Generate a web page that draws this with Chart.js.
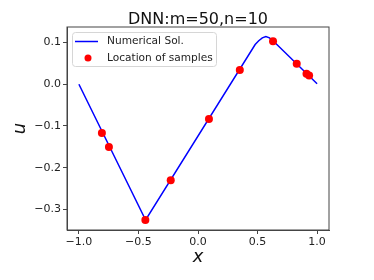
<!DOCTYPE html>
<html>
<head>
<meta charset="utf-8">
<script src="https://cdn.jsdelivr.net/npm/chart.js@4"></script>
<style>
  body { margin: 0; background: #fff; }
  #wrap { width: 374px; height: 280px; position: relative; }
</style>
</head>
<body>
<div id="wrap"><canvas id="chart"></canvas></div>
<script>
// numerical solution (DNN output)
const lineX = [-1.0, -0.44, 0.48, 0.51, 0.54, 0.57, 0.60, 0.63, 1.0];
const lineU = [0.0, -0.325, 0.095, 0.104, 0.111, 0.114, 0.111, 0.104, 0.001];
// sample locations
const sampleX = [-0.807, -0.748, -0.442, -0.229, 0.092, 0.351, 0.63, 0.829, 0.911, 0.933];
const sampleU = [-0.117, -0.150, -0.325, -0.230, -0.083, 0.034, 0.103, 0.049, 0.025, 0.021];
const xTicks = [-1.0, -0.5, 0.0, 0.5, 1.0];
const yTicks = [-0.3, -0.2, -0.1, 0.0, 0.1];
const titleText = 'DNN:m=50,n=10';

const fmt = v => (v < 0 ? '\u2212' : '') + Math.abs(v).toFixed(1);

// frame, title over the axes and legend inside the axes
const framePlugin = {
    id: 'frame',
    afterDatasetsDraw(chart) {
        const {ctx, chartArea: a} = chart;
        ctx.save();
        ctx.strokeStyle = '#444';
        ctx.lineWidth = 1;
        ctx.strokeRect(a.left, a.top, a.right - a.left, a.bottom - a.top);

        // title, centred on the plot area like matplotlib
        ctx.font = '16px "DejaVu Sans"';
        ctx.fillStyle = '#111';
        ctx.textAlign = 'center';
        ctx.textBaseline = 'alphabetic';
        ctx.fillText(titleText, (a.left + a.right) / 2, 23.5);

        // legend
        const bx = 72.5, by = 32.5, bw = 144, bh = 34;
        ctx.fillStyle = 'rgba(255,255,255,0.85)';
        ctx.strokeStyle = '#d6d6d6';
        ctx.beginPath();
        ctx.roundRect(bx, by, bw, bh, 3);
        ctx.fill();
        ctx.stroke();

        const ds = chart.data.datasets;
        ctx.font = '10.6px "DejaVu Sans"';
        ctx.fillStyle = '#222';
        ctx.textBaseline = 'middle';
        ctx.textAlign = 'left';

        ctx.strokeStyle = ds[0].borderColor;
        ctx.lineWidth = 1.5;
        ctx.beginPath();
        ctx.moveTo(75, 41.5);
        ctx.lineTo(98, 41.5);
        ctx.stroke();
        ctx.fillText(ds[0].label, 107, 41.5);

        ctx.fillStyle = ds[1].backgroundColor;
        ctx.beginPath();
        ctx.arc(88, 58, 3.5, 0, Math.PI * 2);
        ctx.fill();
        ctx.fillStyle = '#222';
        ctx.fillText(ds[1].label, 107, 58);
        ctx.restore();
    }
};

new Chart(document.getElementById('chart').getContext('2d'), {
    type: 'scatter',
    data: {
        datasets: [
            {
                label: 'Numerical Sol.',
                data: lineX.map((x, i) => ({x: x, y: lineU[i]})),
                showLine: true,
                borderColor: '#0000ff',
                borderWidth: 1.5,
                pointRadius: 0,
                tension: 0,
                order: 2
            },
            {
                label: 'Location of samples',
                data: sampleX.map((x, i) => ({x: x, y: sampleU[i]})),
                backgroundColor: '#ff0000',
                borderColor: '#ff0000',
                pointRadius: 4,
                pointBorderWidth: 0,
                order: 1
            }
        ]
    },
    options: {
        responsive: true,
        maintainAspectRatio: false,
        animation: false,
        layout: { padding: { left: 0, right: 45, top: 27, bottom: 0 } },
        plugins: {
            legend: { display: false },
            tooltip: { enabled: false },
            title: { display: false }
        },
        scales: {
            x: {
                type: 'linear',
                min: -1.1,
                max: 1.1,
                afterBuildTicks: s => { s.ticks = xTicks.map(v => ({value: v})); },
                afterFit: s => { s.height = 50; },
                grid: { drawOnChartArea: false, drawTicks: true, tickLength: 4, color: '#444' },
                border: { display: true, color: '#444' },
                ticks: {
                    color: '#222',
                    padding: 2,
                    maxRotation: 0,
                    font: { family: 'DejaVu Sans', size: 11 },
                    callback: v => fmt(v)
                },
                title: {
                    display: true,
                    text: 'x',
                    color: '#111',
                    font: { family: 'DejaVu Sans', size: 18, style: 'italic', lineHeight: 1.2 },
                    padding: { top: 0, bottom: 12 }
                }
            },
            y: {
                type: 'linear',
                min: -0.349,
                max: 0.137,
                afterBuildTicks: s => { s.ticks = yTicks.map(v => ({value: v})); },
                afterFit: s => { s.width = 67; },
                grid: { drawOnChartArea: false, drawTicks: true, tickLength: 4, color: '#444' },
                border: { display: true, color: '#444' },
                ticks: {
                    color: '#222',
                    padding: 2,
                    font: { family: 'DejaVu Sans', size: 11 },
                    callback: v => fmt(v)
                },
                title: {
                    display: true,
                    text: 'u',
                    color: '#111',
                    font: { family: 'DejaVu Sans', size: 18, style: 'italic', lineHeight: 1.2 },
                    padding: { top: 10, bottom: 0 }
                }
            }
        }
    },
    plugins: [framePlugin]
});
</script>
</body>
</html>
